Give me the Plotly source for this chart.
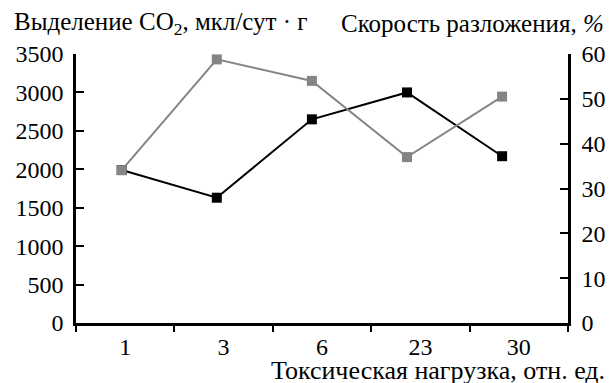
import plotly.graph_objects as go

categories = ["1", "3", "6", "23", "30"]
co2_release = [1990, 1630, 2650, 3000, 2170]      # series 2, left axis
decomp_rate = [34.1, 58.8, 54.0, 37.0, 50.5]      # series 1, right axis
left_ticks = [0, 500, 1000, 1500, 2000, 2500, 3000, 3500]
right_ticks = [0, 10, 20, 30, 40, 50, 60]

FONT = "Liberation Serif, Times New Roman, serif"
FS_TICK = 24
FS_TITLE = 25
GREY = "#858585"

fig = go.Figure()
# carrier trace for the labelled category axis (draws nothing)
fig.add_trace(go.Scatter(x=categories, y=co2_release, xaxis="x", yaxis="y", mode="none",
                         hoverinfo="skip", showlegend=False))
fig.add_trace(go.Scatter(
    x=categories, y=decomp_rate, xaxis="x2", yaxis="y2", mode="lines+markers",
    line=dict(color=GREY, width=2), marker=dict(symbol="square", size=10, color=GREY),
    showlegend=False))
fig.add_trace(go.Scatter(
    x=categories, y=co2_release, xaxis="x2", yaxis="y", mode="lines+markers",
    line=dict(color="black", width=2), marker=dict(symbol="square", size=10, color="black"),
    showlegend=False))

axis_common = dict(showgrid=False, zeroline=False, showline=True, linecolor="black",
                   linewidth=2.5, tickcolor="black", tickwidth=2, automargin=False,
                   tickfont=dict(family=FONT, size=FS_TICK, color="black"))

fig.update_layout(
    width=610, height=383,
    margin=dict(l=76, r=42, t=54, b=60, autoexpand=False),
    paper_bgcolor="white", plot_bgcolor="white",
    font=dict(family=FONT, size=FS_TICK, color="black"),
    xaxis=dict(type="category", categoryorder="array", categoryarray=categories,
               range=[-0.5, 4.5], ticks="outside", ticklen=6, tickson="boundaries",
               anchor="y", **axis_common),
    xaxis2=dict(type="category", categoryorder="array", categoryarray=categories,
                overlaying="x", range=[-0.4806, 4.693], visible=False),
    yaxis=dict(range=[0, 3500], tickvals=left_ticks, ticks="inside", ticklen=8,
               ticklabelstandoff=5, anchor="x", **axis_common),
    yaxis2=dict(range=[0, 60], tickvals=right_ticks, ticks="inside", ticklen=8,
                overlaying="y", side="right", anchor="x", ticklabelstandoff=6,
                **axis_common),
)

fig.add_annotation(text="Выделение CO<sub>2</sub>, мкл/сут · г", xref="paper", yref="paper",
                   x=-0.130, y=1, xanchor="left", yanchor="middle", yshift=31,
                   showarrow=False, font=dict(family=FONT, size=FS_TITLE))
fig.add_annotation(text="Скорость разложения, <i>%</i>", xref="paper", yref="paper",
                   x=1.077, y=1, xanchor="right", yanchor="middle", yshift=31,
                   showarrow=False, font=dict(family=FONT, size=FS_TITLE))
fig.add_annotation(text="Токсическая нагрузка, отн. ед.", xref="paper", yref="paper",
                   x=1.079, y=0, xanchor="right", yanchor="middle", yshift=-47,
                   showarrow=False, font=dict(family=FONT, size=26))
fig.add_annotation(text="<i>1</i>", xref="x2", yref="y2", x=categories[-1], y=decomp_rate[-1],
                   xshift=26, showarrow=False, font=dict(family=FONT, size=FS_TITLE))
fig.add_annotation(text="<i>2</i>", xref="x2", yref="y", x=categories[-1], y=co2_release[-1],
                   xshift=26, showarrow=False, font=dict(family=FONT, size=FS_TITLE))

fig.write_html("out.html")
